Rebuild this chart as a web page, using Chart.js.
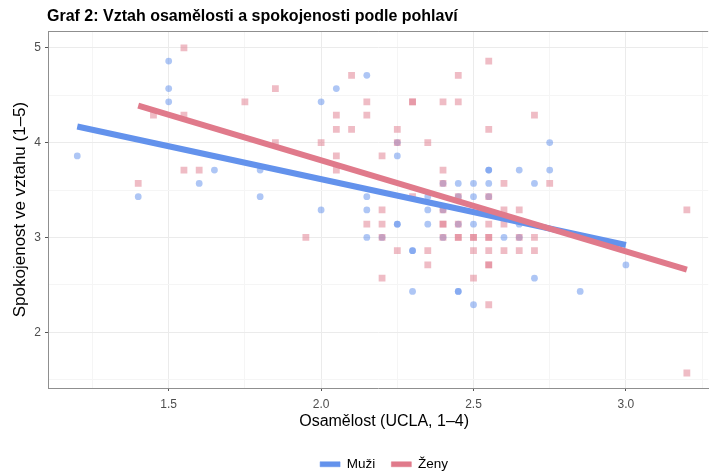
<!DOCTYPE html>
<html lang="cs">
<head>
<meta charset="utf-8">
<script src="https://cdn.jsdelivr.net/npm/chart.js@4.4.1/dist/chart.umd.min.js"></script>
<style>
    html, body { margin: 0; padding: 0; background: #fff; overflow: hidden; }
    canvas { display: block; }
</style>
</head>
<body>
<canvas id="grafico" width="713" height="475"></canvas>
<script>
// Dados - Muži (círculos azuis)
const muziX = [1.2, 1.4, 1.5, 1.5, 1.5, 1.6, 1.65, 1.8, 1.8, 2.0, 2.05, 2.15, 2.25, 2.25, 2.4, 2.45, 2.5, 2.55,
    2.55, 2.55, 2.15, 2.35, 2.45, 2.5, 2.55, 2.0, 2.15, 2.35, 2.4, 2.25, 2.25, 2.35, 2.45, 2.5, 2.15, 2.2,
    2.4, 2.3, 2.3, 2.3, 2.45, 2.45, 2.5, 2.65, 2.75, 2.75, 2.7, 2.6, 2.65, 2.65, 2.7, 2.85, 3.0];
const muziY = [3.86, 3.43, 4.86, 4.57, 4.43, 3.57, 3.71, 3.71, 3.43, 4.43, 4.57, 4.71, 3.86, 4.0, 3.57, 3.57, 3.57, 3.57,
    3.71, 3.71, 3.43, 3.43, 3.43, 3.43, 3.43, 3.29, 3.29, 3.29, 3.29, 3.14, 3.14, 3.14, 3.14, 3.14, 3.0, 3.0,
    3.0, 2.86, 2.86, 2.43, 2.43, 2.43, 2.29, 3.71, 3.71, 4.0, 3.57, 3.0, 3.0, 3.14, 2.57, 2.43, 2.71];

// Dados - Ženy (quadrados rosa)
const zenyX = [1.4, 1.45, 1.55, 1.55, 1.55, 1.6, 1.75, 1.85, 1.85, 1.95, 2.0, 2.05, 2.05, 2.05, 2.05, 2.1, 2.1,
    2.15, 2.15, 2.15, 2.2, 2.2, 2.2, 2.2, 2.2, 2.25, 2.25, 2.25, 2.3, 2.3, 2.3, 2.35, 2.35, 2.35, 2.4, 2.4, 2.4,
    2.4, 2.4, 2.4, 2.4, 2.45, 2.45, 2.45, 2.45, 2.45, 2.45, 2.5, 2.5, 2.5, 2.5, 2.55, 2.55, 2.55, 2.55, 2.55,
    2.55, 2.55, 2.55, 2.55, 2.55, 2.6, 2.6, 2.6, 2.6, 2.65, 2.65, 2.65, 2.7, 2.7, 2.7, 2.75, 3.2, 3.2];
const zenyY = [3.57, 4.29, 5.0, 4.29, 3.71, 3.71, 4.43, 4.57, 4.0, 3.0, 4.0, 4.29, 4.14, 3.86, 3.71, 4.71, 4.14,
    4.43, 4.29, 3.14, 3.86, 3.29, 3.14, 3.0, 2.57, 4.14, 4.0, 2.86, 4.43, 4.43, 3.43, 4.0, 2.86, 2.71, 4.43, 3.71, 3.57,
    3.29, 3.14, 3.14, 3.0, 4.71, 4.43, 3.43, 3.14, 3.0, 3.0, 3.0, 3.0, 2.86, 2.57, 4.86, 4.14, 3.43, 3.14, 3.0,
    3.0, 2.86, 2.71, 2.71, 2.29, 3.57, 3.29, 3.14, 2.86, 3.29, 3.0, 2.86, 4.29, 3.0, 2.86, 3.57, 3.29, 1.57];

// Retas de tendência (pontos extremos)
const muziFitX = [1.2, 3.0];
const muziFitY = [4.17, 2.92];
const zenyFitX = [1.4, 3.2];
const zenyFitY = [4.39, 2.66];

// Ticks dos eixos (rótulo vazio = linha menor da grade)
const xTicks = [1.25, 1.5, 1.75, 2.0, 2.25, 2.5, 2.75, 3.0, 3.25];
const xTickLabels = ['', '1.5', '', '2.0', '', '2.5', '', '3.0', ''];
const yTicks = [1.5, 2, 2.5, 3, 3.5, 4, 4.5, 5];
const yTickLabels = ['', '2', '', '3', '', '4', '', '5'];

const titulo = 'Graf 2: Vztah osamělosti a spokojenosti podle pohlaví';
const tituloX = 'Osamělost (UCLA, 1–4)';
const fonte = '"Liberation Sans", Arial, Helvetica, sans-serif';

const azul = '#6392EC';
const rosa = '#E07A8B';

function juntarPontos(xs, ys) {
    return xs.map(function (x, i) { return { x: x, y: ys[i] }; });
}

// Título, título do eixo X e borda superior do painel.
// O painel original continua um pouco além da borda direita da imagem,
// por isso o centro do título X e da legenda fica ~6px à direita do centro visível.
const tituloPlugin = {
    id: 'tituloPlugin',
    afterLayout(chart) {
        chart.legend.left += 6;
        chart.legend.right += 6;
    },
    afterDraw(chart) {
        const ctx = chart.ctx;
        const area = chart.chartArea;
        ctx.save();
        ctx.strokeStyle = '#8f8f8f';
        ctx.lineWidth = 1;
        ctx.beginPath();
        ctx.moveTo(area.left, Math.round(area.top) + 0.5);
        ctx.lineTo(area.right, Math.round(area.top) + 0.5);
        ctx.stroke();

        ctx.font = 'bold 16px ' + fonte;
        ctx.fillStyle = '#000';
        ctx.textBaseline = 'alphabetic';
        ctx.textAlign = 'left';
        ctx.fillText(titulo, 47, 21);

        ctx.font = '16px ' + fonte;
        ctx.textAlign = 'center';
        ctx.textBaseline = 'middle';
        ctx.fillText(tituloX, (area.left + area.right) / 2 + 6, 422);
        ctx.restore();
    }
};

let dados = {
    datasets: [
        {
            label: 'Muži',
            data: juntarPontos(muziFitX, muziFitY),
            showLine: true,
            borderColor: azul,
            backgroundColor: azul,
            borderWidth: 6,
            pointRadius: 0,
            order: 1
        },
        {
            label: 'Ženy',
            data: juntarPontos(zenyFitX, zenyFitY),
            showLine: true,
            borderColor: rosa,
            backgroundColor: rosa,
            borderWidth: 6,
            pointRadius: 0,
            order: 0
        },
        {
            label: 'Muži body',
            data: juntarPontos(muziX, muziY),
            pointStyle: 'circle',
            pointRadius: 3.4,
            pointBorderWidth: 0,
            backgroundColor: 'rgba(99,146,236,0.52)',
            borderColor: 'rgba(0,0,0,0)',
            order: 3
        },
        {
            label: 'Ženy body',
            data: juntarPontos(zenyX, zenyY),
            pointStyle: 'rect',
            pointRadius: 4.8,
            pointBorderWidth: 0,
            backgroundColor: 'rgba(224,122,139,0.5)',
            borderColor: 'rgba(0,0,0,0)',
            order: 2
        }
    ]
};

function corGrade(labels) {
    return function (c) { return labels[c.index] ? '#EBEBEB' : '#F5F5F5'; };
}
function corTick(labels) {
    return function (c) { return labels[c.index] ? '#555' : 'rgba(0,0,0,0)'; };
}

const config = {
    type: 'scatter',
    data: dados,
    options: {
        responsive: false,
        animation: false,
        events: [],
        layout: { padding: { top: 31, right: 0, bottom: -6, left: 0 } },
        plugins: {
            tooltip: { enabled: false },
            legend: {
                position: 'bottom',
                fullSize: false,
                labels: {
                    boxWidth: 20,
                    boxHeight: 5,
                    padding: 16,
                    color: '#1a1a1a',
                    font: { family: fonte, size: 13.5 },
                    generateLabels: function () {
                        return [
                            { text: 'Muži', fillStyle: azul, strokeStyle: azul, lineWidth: 0.5, datasetIndex: 0, hidden: false },
                            { text: 'Ženy', fillStyle: rosa, strokeStyle: rosa, lineWidth: 0.5, datasetIndex: 1, hidden: false }
                        ];
                    }
                }
            }
        },
        scales: {
            x: {
                type: 'linear',
                min: 1.104,
                max: 3.27,
                afterBuildTicks: function (scale) {
                    scale.ticks = xTicks.map(function (v) { return { value: v }; });
                },
                afterFit: function (scale) { scale.height = 53.5; },
                grid: {
                    color: corGrade(xTickLabels),
                    tickColor: corTick(xTickLabels),
                    tickLength: 3,
                    lineWidth: 1
                },
                border: { display: true, color: '#8f8f8f', width: 1 },
                ticks: {
                    autoSkip: false,
                    maxRotation: 0,
                    padding: 6,
                    color: '#4D4D4D',
                    font: { family: fonte, size: 12 },
                    callback: function (v, i) { return xTickLabels[i]; }
                }
            },
            y: {
                type: 'linear',
                min: 1.412,
                max: 5.177,
                afterBuildTicks: function (scale) {
                    scale.ticks = yTicks.map(function (v) { return { value: v }; });
                },
                afterFit: function (scale) { scale.width = 48; },
                grid: {
                    color: corGrade(yTickLabels),
                    tickColor: corTick(yTickLabels),
                    tickLength: 3,
                    lineWidth: 1
                },
                border: { display: true, color: '#8f8f8f', width: 1 },
                ticks: {
                    autoSkip: false,
                    padding: 4,
                    color: '#4D4D4D',
                    font: { family: fonte, size: 12 },
                    callback: function (v, i) { return yTickLabels[i]; }
                },
                title: {
                    display: true,
                    text: 'Spokojenost ve vztahu (1–5)',
                    color: '#000',
                    font: { family: fonte, size: 17 },
                    padding: { top: 10, bottom: 0 }
                }
            }
        }
    },
    plugins: [tituloPlugin]
};

// Adicionando o gráfico no canvas
let grafico = new Chart(
    document.getElementById('grafico'),
    config
);
</script>
</body>
</html>
